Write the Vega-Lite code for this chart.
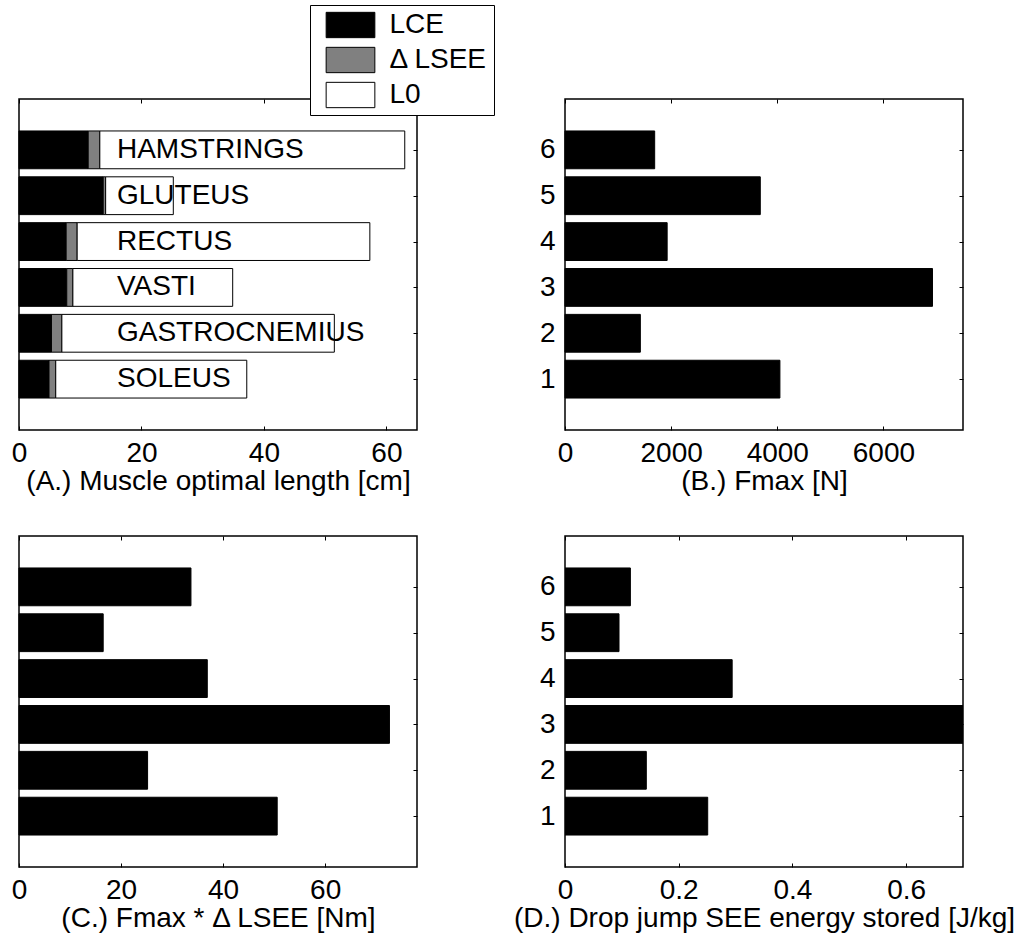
{
  "$schema": "https://vega.github.io/schema/vega-lite/v6.json",
  "padding": {"left": 10, "top": 4, "right": 5, "bottom": 5},
  "background": "white",
  "config": {
    "font": "Liberation Sans",
    "view": {"stroke": "black", "strokeWidth": 1.5},
    "axis": {
      "domain": false,
      "grid": false,
      "ticks": true,
      "tickColor": "black",
      "tickSize": -4,
      "tickWidth": 1,
      "labelFont": "Liberation Sans",
      "labelFontSize": 28,
      "labelColor": "black",
      "labelFlush": false,
      "labelOverlap": false,
      "titleFont": "Liberation Sans",
      "titleFontSize": 28,
      "titleFontWeight": "normal",
      "titleColor": "black"
    },
    "axisBottom": {"labelBaseline": "alphabetic", "labelPadding": 35, "titleBaseline": "alphabetic", "titleY": 59},
    "axisLeft": {"labelPadding": 14, "labelBaseline": "middle"}
  },
  "datasets": {
    "muscles": [
      {"i": 1, "name": "SOLEUS", "fmax": 4050, "work": 50.6, "energy": 0.251},
      {"i": 2, "name": "GASTROCNEMIUS", "fmax": 1420, "work": 25.2, "energy": 0.143},
      {"i": 3, "name": "VASTI", "fmax": 6925, "work": 72.6, "energy": 0.7},
      {"i": 4, "name": "RECTUS", "fmax": 1925, "work": 36.9, "energy": 0.294},
      {"i": 5, "name": "GLUTEUS", "fmax": 3680, "work": 16.5, "energy": 0.095},
      {"i": 6, "name": "HAMSTRINGS", "fmax": 1690, "work": 33.7, "energy": 0.115}
    ],
    "lengths": [
      {"i": 1, "part": "LCE", "len": 4.9, "seq": 1},
      {"i": 1, "part": "Δ LSEE", "len": 1.1, "seq": 2},
      {"i": 1, "part": "L0", "len": 31.2, "seq": 3},
      {"i": 2, "part": "LCE", "len": 5.3, "seq": 1},
      {"i": 2, "part": "Δ LSEE", "len": 1.7, "seq": 2},
      {"i": 2, "part": "L0", "len": 44.5, "seq": 3},
      {"i": 3, "part": "LCE", "len": 7.8, "seq": 1},
      {"i": 3, "part": "Δ LSEE", "len": 1.0, "seq": 2},
      {"i": 3, "part": "L0", "len": 26.1, "seq": 3},
      {"i": 4, "part": "LCE", "len": 7.7, "seq": 1},
      {"i": 4, "part": "Δ LSEE", "len": 1.8, "seq": 2},
      {"i": 4, "part": "L0", "len": 47.8, "seq": 3},
      {"i": 5, "part": "LCE", "len": 13.75, "seq": 1},
      {"i": 5, "part": "Δ LSEE", "len": 0.4, "seq": 2},
      {"i": 5, "part": "L0", "len": 11.05, "seq": 3},
      {"i": 6, "part": "LCE", "len": 11.3, "seq": 1},
      {"i": 6, "part": "Δ LSEE", "len": 1.9, "seq": 2},
      {"i": 6, "part": "L0", "len": 49.8, "seq": 3}
    ]
  },
  "columns": 2,
  "bounds": "flush",
  "spacing": {"row": 106, "column": 148},
  "concat": [
    {
      "width": 398,
      "height": 331,
      "layer": [
        {
          "data": {"name": "lengths"},
          "mark": {"type": "bar", "orient": "horizontal", "size": 37.8, "stroke": "black", "strokeWidth": 1},
          "encoding": {
            "y": {"field": "i", "type": "quantitative", "scale": {"domain": [0, 7], "nice": false, "zero": false},
                  "axis": {"orient": "left", "values": [1, 2, 3, 4, 5, 6], "labels": false, "title": null}},
            "x": {"field": "len", "type": "quantitative", "stack": "zero", "scale": {"domain": [0, 65], "nice": false},
                  "axis": {"orient": "bottom", "values": [0, 20, 40, 60], "title": "(A.) Muscle optimal length [cm]"}},
            "color": {"field": "part", "type": "nominal",
                      "scale": {"domain": ["LCE", "Δ LSEE", "L0"], "range": ["#000000", "#808080", "#ffffff"]},
                      "legend": {"orient": "none", "legendX": 291, "legendY": -94, "title": null,
                                 "symbolType": "M-1,-0.52H1V0.52H-1Z", "symbolSize": 2372,
                                 "symbolStrokeColor": "black", "symbolStrokeWidth": 1, "symbolOpacity": 1,
                                 "symbolOffset": 10, "clipHeight": 29,
                                 "labelFont": "Liberation Sans", "labelFontSize": 28, "labelColor": "black",
                                 "labelOffset": 14, "padding": 5.5, "rowPadding": 6,
                                 "strokeColor": "black", "fillColor": "white"}},
            "order": {"field": "seq", "type": "quantitative"}
          }
        },
        {
          "data": {"name": "muscles"},
          "mark": {"type": "text", "align": "left", "baseline": "middle", "fontSize": 28, "font": "Liberation Sans", "color": "black"},
          "encoding": {
            "x": {"datum": 16, "type": "quantitative", "axis": null},
            "y": {"field": "i", "type": "quantitative", "axis": null},
            "text": {"field": "name", "type": "nominal"}
          }
        },
        {
          "data": {"name": "lengths"},
          "mark": {"type": "point", "opacity": 0},
          "encoding": {
            "x": {"field": "len", "type": "quantitative",
                  "axis": {"orient": "top", "values": [0, 20, 40, 60], "labels": false, "title": null}},
            "y": {"field": "i", "type": "quantitative",
                  "axis": {"orient": "right", "values": [1, 2, 3, 4, 5, 6], "labels": false, "title": null}}
          }
        }
      ]
    },
    {
      "width": 398,
      "height": 331,
      "data": {"name": "muscles"},
      "layer": [
        {
          "mark": {"type": "bar", "orient": "horizontal", "size": 37.8, "color": "black", "stroke": "black", "strokeWidth": 1},
          "encoding": {
            "y": {"field": "i", "type": "quantitative", "scale": {"domain": [0, 7], "nice": false, "zero": false},
                  "axis": {"orient": "left", "values": [1, 2, 3, 4, 5, 6], "format": "d", "title": null}},
            "x": {"field": "fmax", "type": "quantitative", "scale": {"domain": [0, 7500], "nice": false},
                  "axis": {"orient": "bottom", "values": [0, 2000, 4000, 6000], "format": "d", "title": "(B.) Fmax [N]"}}
          }
        },
        {
          "mark": {"type": "point", "opacity": 0},
          "encoding": {
            "x": {"field": "fmax", "type": "quantitative",
                  "axis": {"orient": "top", "values": [0, 2000, 4000, 6000], "labels": false, "title": null}},
            "y": {"field": "i", "type": "quantitative",
                  "axis": {"orient": "right", "values": [1, 2, 3, 4, 5, 6], "labels": false, "title": null}}
          }
        }
      ]
    },
    {
      "width": 398,
      "height": 331,
      "data": {"name": "muscles"},
      "layer": [
        {
          "mark": {"type": "bar", "orient": "horizontal", "size": 37.8, "color": "black", "stroke": "black", "strokeWidth": 1},
          "encoding": {
            "y": {"field": "i", "type": "quantitative", "scale": {"domain": [0, 7], "nice": false, "zero": false},
                  "axis": {"orient": "left", "values": [1, 2, 3, 4, 5, 6], "labels": false, "title": null}},
            "x": {"field": "work", "type": "quantitative", "scale": {"domain": [0, 78], "nice": false},
                  "axis": {"orient": "bottom", "values": [0, 20, 40, 60], "title": "(C.) Fmax * Δ LSEE [Nm]"}}
          }
        },
        {
          "mark": {"type": "point", "opacity": 0},
          "encoding": {
            "x": {"field": "work", "type": "quantitative",
                  "axis": {"orient": "top", "values": [0, 20, 40, 60], "labels": false, "title": null}},
            "y": {"field": "i", "type": "quantitative",
                  "axis": {"orient": "right", "values": [1, 2, 3, 4, 5, 6], "labels": false, "title": null}}
          }
        }
      ]
    },
    {
      "width": 398,
      "height": 331,
      "data": {"name": "muscles"},
      "layer": [
        {
          "mark": {"type": "bar", "orient": "horizontal", "size": 37.8, "color": "black", "stroke": "black", "strokeWidth": 1, "clip": true},
          "encoding": {
            "y": {"field": "i", "type": "quantitative", "scale": {"domain": [0, 7], "nice": false, "zero": false},
                  "axis": {"orient": "left", "values": [1, 2, 3, 4, 5, 6], "format": "d", "title": null}},
            "x": {"field": "energy", "type": "quantitative", "scale": {"domain": [0, 0.7], "nice": false},
                  "axis": {"orient": "bottom", "values": [0, 0.2, 0.4, 0.6], "format": "~g", "title": "(D.) Drop jump SEE energy stored [J/kg]"}}
          }
        },
        {
          "mark": {"type": "point", "opacity": 0},
          "encoding": {
            "x": {"field": "energy", "type": "quantitative",
                  "axis": {"orient": "top", "values": [0, 0.2, 0.4, 0.6], "labels": false, "title": null}},
            "y": {"field": "i", "type": "quantitative",
                  "axis": {"orient": "right", "values": [1, 2, 3, 4, 5, 6], "labels": false, "title": null}}
          }
        }
      ]
    }
  ]
}
